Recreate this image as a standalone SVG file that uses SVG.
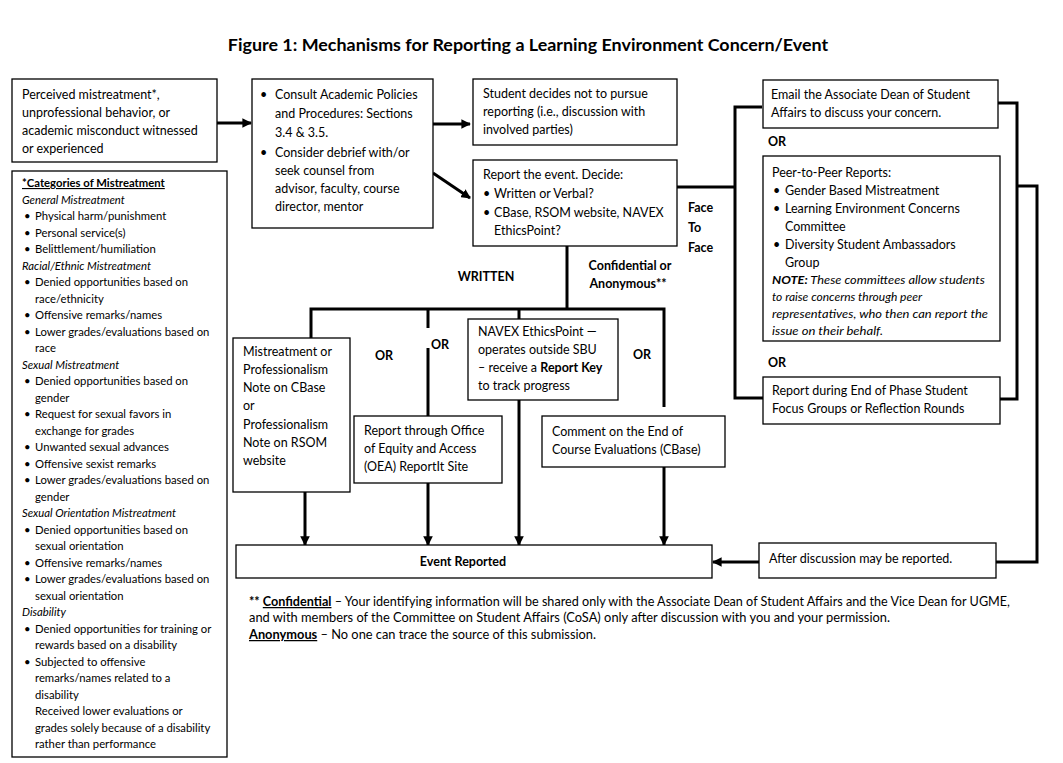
<svg xmlns="http://www.w3.org/2000/svg" width="1063" height="763" viewBox="0 0 1063 763">
<style>
text{font-family:Lato,"Liberation Sans",sans-serif;fill:#000}
.t{font-size:12.5px}
.s{font-size:11.3px}
.n{font-size:11.5px;font-style:italic}
.b{font-weight:bold}
.i{font-style:italic}
.u{text-decoration:underline}
.box{fill:#fff;stroke:#000;stroke-width:1.3}
.ln{stroke:#000;stroke-width:3;fill:none}
.ar{stroke:#000;stroke-width:3;fill:none;marker-end:url(#ah)}
</style>
<defs>
<marker id="ah" viewBox="0 0 10 10" refX="9" refY="5" markerWidth="3.2" markerHeight="3.2" orient="auto" markerUnits="strokeWidth">
<path d="M0,0L10,5L0,10z" fill="#000"/>
</marker>
</defs>
<rect width="1063" height="763" fill="#fff"/>
<text x="528" y="51" text-anchor="middle" class="b" style="font-size:17.9px">Figure 1: Mechanisms for Reporting a Learning Environment Concern/Event</text>

<g id="connectors">
<line class="ar" x1="217" y1="123" x2="251" y2="123"/>
<line class="ar" x1="433" y1="124" x2="470" y2="124"/>
<line class="ar" x1="433" y1="173" x2="470" y2="198"/>
<polyline class="ln" points="677,187 735,187"/>
<polyline class="ln" points="762,107 735,107 735,398 763,398"/>
<polyline class="ln" points="998,103 1017,103 1017,399 1000,399"/>
<polyline class="ln" points="1017,186 1037,186 1037,562 996,562"/>
<line class="ar" x1="759" y1="562" x2="713" y2="562"/>
<line class="ln" x1="567" y1="246" x2="567" y2="310"/>
<polyline class="ln" points="311,338 311,309 664,309 664,407"/>
<line class="ln" x1="428" y1="309" x2="428" y2="328"/>
<line class="ln" x1="428" y1="348" x2="428" y2="416"/>
<line class="ln" x1="519" y1="309" x2="519" y2="319"/>
<line class="ar" x1="305" y1="492" x2="305" y2="545"/>
<line class="ar" x1="428" y1="483" x2="428" y2="545"/>
<line class="ar" x1="519" y1="400" x2="519" y2="545"/>
<line class="ar" x1="664" y1="467" x2="664" y2="545"/>
</g>

<g id="perceived">
<rect class="box" x="12" y="79" width="205" height="83"/>
<text class="t" x="22" y="98.5">Perceived mistreatment*,</text>
<text class="t" x="22" y="116.5">unprofessional behavior, or</text>
<text class="t" x="22" y="134.5">academic misconduct witnessed</text>
<text class="t" x="22" y="152.5">or experienced</text>
</g>

<g id="consult">
<rect class="box" x="252" y="79" width="181" height="149"/>
<text class="t" x="260" y="98.5">•</text>
<text class="t" x="275" y="98.5">Consult Academic Policies</text>
<text class="t" x="275" y="117.5">and Procedures: Sections</text>
<text class="t" x="275" y="136.5">3.4 &amp; 3.5.</text>
<text class="t" x="260" y="156.5">•</text>
<text class="t" x="275" y="156.5">Consider debrief with/or</text>
<text class="t" x="275" y="174.5">seek counsel from</text>
<text class="t" x="275" y="192.5">advisor, faculty, course</text>
<text class="t" x="275" y="210.5">director, mentor</text>
</g>

<g id="decides">
<rect class="box" x="473" y="79" width="204" height="66"/>
<text class="t" x="483" y="97.5">Student decides not to pursue</text>
<text class="t" x="483" y="115.5">reporting (i.e., discussion with</text>
<text class="t" x="483" y="133.5">involved parties)</text>
</g>

<g id="report">
<rect class="box" x="473" y="160" width="204" height="86"/>
<text class="t" x="483" y="179">Report the event. Decide:</text>
<text class="t" x="483" y="198">•</text>
<text class="t" x="494" y="198">Written or Verbal?</text>
<text class="t" x="483" y="217">•</text>
<text class="t" x="494" y="217">CBase, RSOM website, NAVEX</text>
<text class="t" x="494" y="235">EthicsPoint?</text>
</g>

<g id="labels">
<text class="t b" x="688" y="212">Face</text>
<text class="t b" x="688" y="232">To</text>
<text class="t b" x="688" y="252">Face</text>
<text class="t b" x="486" y="281" text-anchor="middle">WRITTEN</text>
<text class="t b" x="630" y="270" text-anchor="middle">Confidential or</text>
<text class="t b" x="628" y="288" text-anchor="middle">Anonymous**</text>
<text class="t b" x="384" y="360" text-anchor="middle">OR</text>
<text class="t b" x="440" y="349" text-anchor="middle">OR</text>
<text class="t b" x="642" y="359" text-anchor="middle">OR</text>
<text class="t b" x="768" y="146">OR</text>
<text class="t b" x="768" y="367">OR</text>
</g>

<g id="email">
<rect class="box" x="763" y="80" width="235" height="48"/>
<text class="t" x="771" y="98.5">Email the Associate Dean of Student</text>
<text class="t" x="771" y="116.5">Affairs to discuss your concern.</text>
</g>

<g id="peer">
<rect class="box" x="763" y="156" width="237" height="185"/>
<text class="t" x="772" y="176.5">Peer-to-Peer Reports:</text>
<text class="t" x="773" y="194.5">•</text>
<text class="t" x="785" y="194.5">Gender Based Mistreatment</text>
<text class="t" x="773" y="212.5">•</text>
<text class="t" x="785" y="212.5">Learning Environment Concerns</text>
<text class="t" x="785" y="230.5">Committee</text>
<text class="t" x="773" y="248.5">•</text>
<text class="t" x="785" y="248.5">Diversity Student Ambassadors</text>
<text class="t" x="785" y="266.5">Group</text>
<text class="n" x="772" y="284" textLength="213" lengthAdjust="spacingAndGlyphs"><tspan class="b">NOTE:</tspan> These committees allow students</text>
<text class="n" x="772" y="301" textLength="150" lengthAdjust="spacingAndGlyphs">to raise concerns through peer</text>
<text class="n" x="772" y="318" textLength="216" lengthAdjust="spacingAndGlyphs">representatives, who then can report the</text>
<text class="n" x="772" y="335" textLength="111" lengthAdjust="spacingAndGlyphs">issue on their behalf.</text>
</g>

<g id="focus">
<rect class="box" x="763" y="377" width="237" height="47"/>
<text class="t" x="772" y="394.5">Report during End of Phase Student</text>
<text class="t" x="772" y="412.5">Focus Groups or Reflection Rounds</text>
</g>

<g id="after">
<rect class="box" x="759" y="543" width="237" height="35"/>
<text class="t" x="769" y="562.5">After discussion may be reported.</text>
</g>

<g id="cbase-note">
<rect class="box" x="233" y="338" width="117" height="154"/>
<text class="t" x="243" y="355.5">Mistreatment or</text>
<text class="t" x="243" y="373.5">Professionalism</text>
<text class="t" x="243" y="391.5">Note on CBase</text>
<text class="t" x="243" y="409.5">or</text>
<text class="t" x="243" y="428.5">Professionalism</text>
<text class="t" x="243" y="446.5">Note on RSOM</text>
<text class="t" x="243" y="464.5">website</text>
</g>

<g id="oea">
<rect class="box" x="354" y="416" width="148" height="67"/>
<text class="t" x="364" y="434.5">Report through Office</text>
<text class="t" x="364" y="452.5">of Equity and Access</text>
<text class="t" x="364" y="470.5">(OEA) ReportIt Site</text>
</g>

<g id="navex">
<rect class="box" x="468" y="319" width="150" height="81"/>
<text class="t" x="478" y="335.5">NAVEX EthicsPoint —</text>
<text class="t" x="478" y="353.5">operates outside SBU</text>
<text class="t" x="478" y="371.5">– receive a <tspan class="b">Report Key</tspan></text>
<text class="t" x="478" y="389.5">to track progress</text>
</g>

<g id="comment">
<rect class="box" x="542" y="416" width="183" height="51"/>
<text class="t" x="552" y="436">Comment on the End of</text>
<text class="t" x="552" y="454">Course Evaluations (CBase)</text>
</g>

<g id="event">
<rect class="box" x="236" y="545" width="476" height="33"/>
<text class="t b" x="463" y="566" text-anchor="middle">Event Reported</text>
</g>

<g id="footnote">
<text class="t" x="249" y="606" textLength="761" lengthAdjust="spacingAndGlyphs"><tspan class="b">** </tspan><tspan class="b u">Confidential</tspan> – Your identifying information will be shared only with the Associate Dean of Student Affairs and the Vice Dean for UGME,</text>
<text class="t" x="249" y="622" textLength="641" lengthAdjust="spacingAndGlyphs">and with members of the Committee on Student Affairs (CoSA) only after discussion with you and your permission.</text>
<text class="t" x="249" y="639" textLength="347" lengthAdjust="spacingAndGlyphs"><tspan class="b u">Anonymous</tspan> – No one can trace the source of this submission.</text>
</g>

<g id="categories">
<rect class="box" x="12" y="171" width="215" height="586"/>
<text class="s b u" x="22" y="187">*Categories of Mistreatment</text>
<text class="s i" x="22" y="203.5">General Mistreatment</text>
<text class="s" x="24" y="220">•</text><text class="s" x="35" y="220">Physical harm/punishment</text>
<text class="s" x="24" y="236.5">•</text><text class="s" x="35" y="236.5">Personal service(s)</text>
<text class="s" x="24" y="253">•</text><text class="s" x="35" y="253">Belittlement/humiliation</text>
<text class="s i" x="22" y="269.5">Racial/Ethnic Mistreatment</text>
<text class="s" x="24" y="286">•</text><text class="s" x="35" y="286">Denied opportunities  based on</text>
<text class="s" x="35" y="302.5">race/ethnicity</text>
<text class="s" x="24" y="319">•</text><text class="s" x="35" y="319">Offensive remarks/names</text>
<text class="s" x="24" y="335.5">•</text><text class="s" x="35" y="335.5">Lower grades/evaluations  based on</text>
<text class="s" x="35" y="352">race</text>
<text class="s i" x="22" y="368.5">Sexual Mistreatment</text>
<text class="s" x="24" y="385">•</text><text class="s" x="35" y="385">Denied opportunities  based on</text>
<text class="s" x="35" y="401.5">gender</text>
<text class="s" x="24" y="418">•</text><text class="s" x="35" y="418">Request for sexual favors in</text>
<text class="s" x="35" y="434.5">exchange for grades</text>
<text class="s" x="24" y="451">•</text><text class="s" x="35" y="451">Unwanted sexual advances</text>
<text class="s" x="24" y="467.5">•</text><text class="s" x="35" y="467.5">Offensive sexist remarks</text>
<text class="s" x="24" y="484">•</text><text class="s" x="35" y="484">Lower grades/evaluations  based on</text>
<text class="s" x="35" y="500.5">gender</text>
<text class="s i" x="22" y="517">Sexual Orientation  Mistreatment</text>
<text class="s" x="24" y="533.5">•</text><text class="s" x="35" y="533.5">Denied opportunities  based on</text>
<text class="s" x="35" y="550">sexual orientation</text>
<text class="s" x="24" y="566.5">•</text><text class="s" x="35" y="566.5">Offensive remarks/names</text>
<text class="s" x="24" y="583">•</text><text class="s" x="35" y="583">Lower grades/evaluations  based on</text>
<text class="s" x="35" y="599.5">sexual orientation</text>
<text class="s i" x="22" y="616">Disability</text>
<text class="s" x="24" y="632.5">•</text><text class="s" x="35" y="632.5">Denied opportunities  for training or</text>
<text class="s" x="35" y="649">rewards based on a disability</text>
<text class="s" x="24" y="665.5">•</text><text class="s" x="35" y="665.5">Subjected to offensive</text>
<text class="s" x="35" y="682">remarks/names related to a</text>
<text class="s" x="35" y="698.5">disability</text>
<text class="s" x="35" y="715">Received lower evaluations or</text>
<text class="s" x="35" y="731.5">grades solely because of a disability</text>
<text class="s" x="35" y="748">rather than performance</text>
</g>
</svg>
